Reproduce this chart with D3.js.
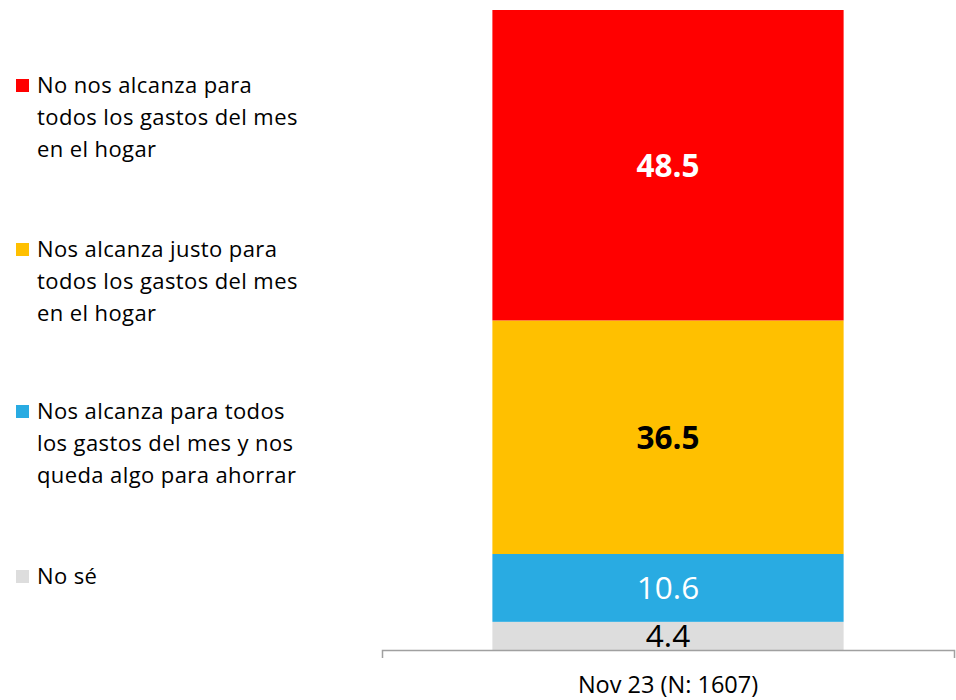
<!DOCTYPE html>
<html>
<head>
<meta charset="utf-8">
<script src="https://cdn.jsdelivr.net/npm/d3@7"></script>
<style>
  html, body { margin: 0; padding: 0; background: #ffffff; }
  svg { display: block; font-family: "Open Sans", "Noto Sans", sans-serif; }
</style>
</head>
<body>
<svg id="chart" width="956" height="700"></svg>
<script>
// Survey wave shown on the x axis
const categories = ["Nov 23 (N: 1607)"];

// Answer options, stacked from the bottom of the bar upwards
const seriesKeys = ["nose", "ahorra", "justo", "noAlcanza"];
const seriesValues = [4.4, 10.6, 36.5, 48.5];
const seriesColors = ["#DDDDDD", "#29ABE2", "#FFC000", "#FF0000"];
const labelColors = ["#000000", "#FFFFFF", "#000000", "#FFFFFF"];
const labelWeights = ["normal", "normal", "bold", "bold"];

// Legend entries, listed from the top of the legend downwards
const legendKeys = ["noAlcanza", "justo", "ahorra", "nose"];
const legendLines = [
  ["No nos alcanza para", "todos los gastos del mes", "en el hogar"],
  ["Nos alcanza justo para", "todos los gastos del mes", "en el hogar"],
  ["Nos alcanza para todos", "los gastos del mes y nos", "queda algo para ahorrar"],
  ["No sé"]
];

const svg = d3.select("#chart");

const row = { cat: categories[0] };
seriesKeys.forEach((k, i) => { row[k] = seriesValues[i]; });
const stacked = d3.stack().keys(seriesKeys)([row]);

const x = d3.scaleBand()
  .domain(categories)
  .range([382, 954])
  .paddingInner(0)
  .paddingOuter(0.3143);

const y = d3.scaleLinear().domain([0, 100]).range([650, 10]);
const color = d3.scaleOrdinal().domain(seriesKeys).range(seriesColors);

// Stacked bar segments
const layers = svg.append("g").selectAll("g")
  .data(stacked)
  .join("g")
  .attr("fill", d => color(d.key));

layers.selectAll("rect")
  .data(d => d)
  .join("rect")
  .attr("x", d => x(d.data.cat))
  .attr("width", x.bandwidth())
  .attr("y", d => y(d[1]))
  .attr("height", d => y(d[0]) - y(d[1]));

// Value labels centred in each segment
svg.append("g").selectAll("text")
  .data(stacked)
  .join("text")
  .attr("x", d => x(d[0].data.cat) + x.bandwidth() / 2)
  .attr("y", d => (y(d[0][0]) + y(d[0][1])) / 2)
  .attr("dy", "0.36em")
  .attr("text-anchor", "middle")
  .attr("font-size", 31.5)
  .attr("font-weight", (d, i) => labelWeights[i])
  .attr("fill", (d, i) => labelColors[i])
  .text(d => (d[0][1] - d[0][0]).toFixed(1));

// Category axis
const axis = svg.append("g")
  .attr("transform", "translate(0,650)")
  .call(d3.axisBottom(x).tickSizeInner(0).tickSizeOuter(8).tickPadding(26));

axis.select(".domain")
  .attr("stroke", "#A0A0A0")
  .attr("stroke-width", 1.5);

axis.selectAll(".tick text")
  .attr("font-family", "'Open Sans', 'Noto Sans', sans-serif")
  .attr("font-size", 23.5)
  .attr("fill", "#000000");

// Legend
const legend = svg.append("g");
const legendBaselines = [93, 257, 419, 584];
const lineHeight = 32;

legendKeys.forEach((key, i) => {
  const g = legend.append("g");
  g.append("rect")
    .attr("x", 16)
    .attr("y", legendBaselines[i] - 14)
    .attr("width", 13)
    .attr("height", 13)
    .attr("fill", color(key));
  const t = g.append("text")
    .attr("x", 37)
    .attr("y", legendBaselines[i])
    .attr("font-size", 22)
    .attr("letter-spacing", 0.4)
    .attr("fill", "#000000");
  legendLines[i].forEach((line, j) => {
    t.append("tspan")
      .attr("x", 37)
      .attr("y", legendBaselines[i] + j * lineHeight)
      .text(line);
  });
});
</script>
</body>
</html>
